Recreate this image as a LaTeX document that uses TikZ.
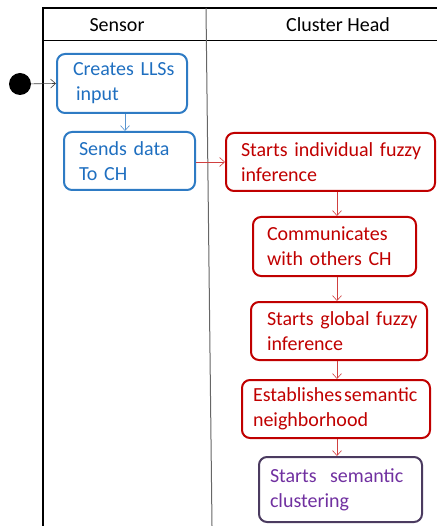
\documentclass[tikz,border=0pt]{standalone}
\usepackage{fontspec}
\setmainfont{Carlito}
\usetikzlibrary{arrows.meta}
\definecolor{sblue}{HTML}{1F6FC0}
\definecolor{sbluebd}{HTML}{2E7BC4}
\definecolor{sred}{HTML}{C00000}
\definecolor{spurp}{HTML}{7030A0}
\definecolor{spurpbd}{HTML}{4B3B60}
\hbadness=10000 \hfuzz=50pt
\tikzset{
  x=1pt, y=-1pt,
  act/.style={draw, line width=2pt, rounded corners=8pt, align=left, inner ysep=0pt,
    font=\fontsize{20}{25}\selectfont},
  bluebox/.style={act, draw=sbluebd, text=sblue},
  redbox/.style={act, draw=sred, text=sred},
  purpbox/.style={act, draw=spurpbd, text=spurp},
  tip/.style={-{Straight Barb[length=5pt,width=9pt]}, line width=0.6pt},
  hdr/.style={font=\fontsize{20}{22}\selectfont, text=black}
}
\begin{document}
\begin{tikzpicture}
\useasboundingbox (0,0) rectangle (437,526);
% swimlane frame
\draw[line width=1.5pt] (43,526) -- (43,8) -- (437,8);
\draw[line width=1pt] (43,41) -- (437,41);
\draw[line width=1pt, gray!80!black] (206,8) -- (212,526);
\node[hdr] (hs) at (117,25) {Sensor};
\node[hdr] (hc) at (338,25) {Cluster Head};
% start
\node[circle, fill=black, minimum size=22pt, inner sep=0pt] (start) at (20,84) {};
% activities
\node[bluebox, text width=98pt, inner xsep=16pt, minimum height=59pt] (n1) at (122,83.5) {\mbox{Creates LLSs}\\\mbox{\hspace{3pt}input}};
\node[bluebox, text width=101pt, inner xsep=15pt, minimum height=58pt] (n2) at (129.5,161) {\mbox{Sends data}\\\mbox{To CH}};
\node[redbox, text width=179pt, inner xsep=15pt, minimum height=58pt] (n3) at (330.5,162) {\mbox{Starts individual fuzzy}\\\mbox{inference}};
\node[redbox, text width=135pt, inner xsep=14pt, minimum height=59pt] (n4) at (334.5,246.5) {\mbox{Communicates}\\\mbox{with others CH}};
\node[redbox, text width=144pt, inner xsep=16pt, minimum height=58pt] (n5) at (339,331) {\mbox{Starts global fuzzy}\\\mbox{inference}};
\node[redbox, text width=166pt, inner xsep=11pt, minimum height=58pt] (n6) at (336,409) {\mbox{Establishes\hspace{2pt}semantic}\\\mbox{neighborhood}};
\node[purpbox, text width=141pt, inner xsep=11pt, minimum height=65pt] (n7) at (340.5,489.5) {\mbox{Starts \ semantic}\\\mbox{clustering}};
% connectors
\draw[tip, black!75] (start) -- (n1.west);
\draw[tip, sbluebd!80] (n1.south -| 125,0) -- (n2.north -| 125,0);
\draw[tip, sred!75] (n2.east |- 0,162) -- (n3.west |- 0,162);
\draw[tip, sred!75] (n3.south -| 337,0) -- (n4.north -| 337,0);
\draw[tip, sred!75] (n4.south -| 337,0) -- (n5.north -| 337,0);
\draw[tip, sred!75] (n5.south -| 337,0) -- (n6.north -| 337,0);
\draw[tip, sred!75] (n6.south -| 337,0) -- (n7.north -| 337,0);
\end{tikzpicture}
\end{document}
